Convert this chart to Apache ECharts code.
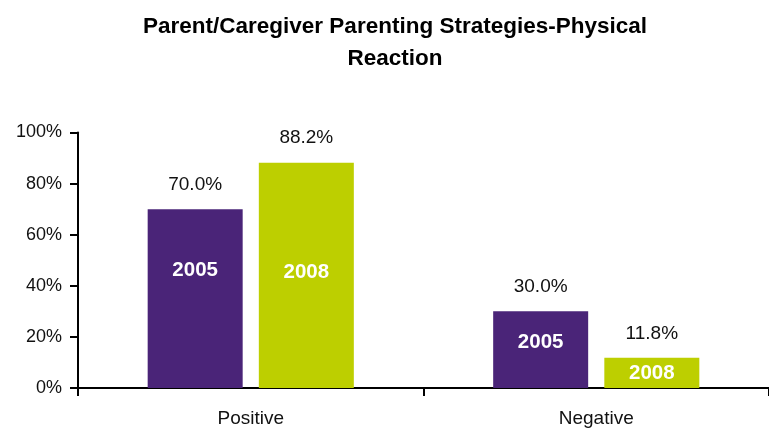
<!DOCTYPE html>
<html>
<head>
<meta charset="utf-8">
<script src="https://cdn.jsdelivr.net/npm/echarts@6/dist/echarts.min.js"></script>
<style>
  html, body { margin: 0; padding: 0; background: #fff; }
  #chart { width: 769px; height: 430px; }
</style>
</head>
<body>
<div id="chart"></div>
<script>
// Parenting strategy categories and share of parents/caregivers per survey year
const categories = ['Positive', 'Negative'];
const years = ['2005', '2008'];
const values2005 = [70.0, 30.0];
const values2008 = [88.2, 11.8];
const yTicks = [0, 20, 40, 60, 80, 100];

// Vertical nudge (px) of the year tag inside each bar, by category
const yearTagOffsets = [[-28, -3], [-7, 0]];

const colors = ['#4A2478', '#BDCF00'];
const font = '"Liberation Sans", Arial, sans-serif';

function valueSeries(name, data, color) {
  return {
    name: name,
    type: 'bar',
    xAxisIndex: 0,
    data: data,
    barWidth: 95,
    barGap: '17%',
    itemStyle: { color: color },
    label: {
      show: true,
      position: 'top',
      distance: 15,
      color: '#111',
      fontFamily: font,
      fontSize: 19,
      formatter: p => p.value.toFixed(1) + '%'
    },
    silent: true
  };
}

function yearTagSeries(name, data, seriesIdx) {
  return {
    name: name + ' tag',
    type: 'bar',
    xAxisIndex: 1,
    data: data.map((v, i) => ({
      value: v,
      label: { offset: [0, yearTagOffsets[i][seriesIdx]] }
    })),
    barWidth: 95,
    barGap: '17%',
    itemStyle: { color: 'rgba(0,0,0,0)' },
    label: {
      show: true,
      position: 'inside',
      color: '#fff',
      fontFamily: font,
      fontWeight: 'bold',
      fontSize: 20.5,
      formatter: () => name
    },
    silent: true,
    z: 5
  };
}

const chart = echarts.init(document.getElementById('chart'), null, { renderer: 'canvas' });

chart.setOption({
  animation: false,
  title: {
    text: 'Parent/Caregiver Parenting Strategies-Physical\nReaction',
    left: 390,
    textAlign: 'center',
    top: 6,
    textStyle: {
      fontFamily: font,
      fontWeight: 'bold',
      fontSize: 22.5,
      lineHeight: 32,
      color: '#000'
    }
  },
  grid: { left: 78, top: 132.5, width: 692, height: 255.5, containLabel: false },
  xAxis: [
    {
      type: 'category',
      data: categories,
      axisLine: { lineStyle: { color: '#000', width: 2 } },
      axisTick: { show: true, length: 8, lineStyle: { color: '#000', width: 2 } },
      axisLabel: { color: '#111', fontFamily: font, fontSize: 19, margin: 21 }
    },
    {
      type: 'category',
      data: categories,
      show: false
    }
  ],
  yAxis: {
    type: 'value',
    min: yTicks[0],
    max: yTicks[yTicks.length - 1],
    interval: yTicks[1] - yTicks[0],
    axisLine: { show: true, lineStyle: { color: '#000', width: 2 } },
    axisTick: { show: true, length: 8, lineStyle: { color: '#000', width: 2 } },
    splitLine: { show: false },
    axisLabel: {
      color: '#111',
      fontFamily: font,
      fontSize: 18,
      margin: 16,
      formatter: v => v + '%'
    }
  },
  series: [
    valueSeries(years[0], values2005, colors[0]),
    valueSeries(years[1], values2008, colors[1]),
    yearTagSeries(years[0], values2005, 0),
    yearTagSeries(years[1], values2008, 1)
  ]
});
</script>
</body>
</html>
